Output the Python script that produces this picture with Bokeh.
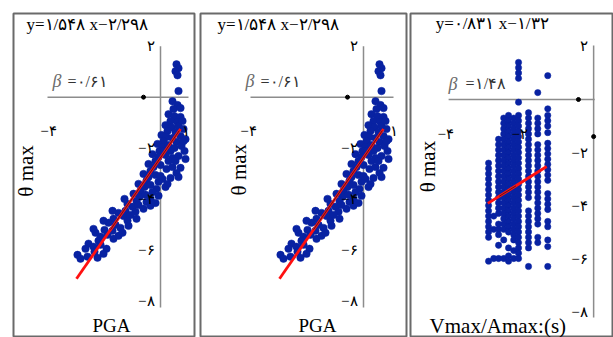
import math
from bokeh.plotting import figure
from bokeh.layouts import row
from bokeh.models import Range1d
from bokeh.core.properties import value
from bokeh.embed import file_html
from bokeh.resources import INLINE

# ---------------- data: theta max vs PGA (panels 1 and 2 show the same data) ----------------
pga_x = [0.64, 0.72, 0.60, 0.68, 0.72, 0.48, 0.68, 0.52, 0.80, 0.32,
         0.56, 0.80, 0.40, 0.68, 0.20, 0.44, 0.72, 0.92, 0.28, 0.60,
         0.04, 0.24, 0.48, 0.80, 1.00, 0.12, 0.64, -0.12, 0.08, 0.32,
         0.56, 0.84, -0.04, 0.40, 0.96, -0.32, -0.08, 0.20, 0.48, 0.72,
         1.00, -0.20, 0.32, -0.48, -0.28, 0.00, 0.24, 0.48, 0.80, -0.40,
         0.64, -0.68, -0.48, -0.20, 0.08, 0.40, 0.72, -0.56, -0.08, -0.88,
         -0.64, -0.40, -0.16, 0.20, -0.80, -0.32, -1.08, -0.84, -0.60, -0.40,
         -0.08, -0.96, -0.56, -1.32, -1.12, -0.88, -0.68, -0.40, -1.40, -1.00,
         -1.68, -1.48, -1.20, -0.96, -1.88, -1.32, -2.08, -1.80, -1.60, -1.28,
         -2.24, -1.92, -2.60, -2.40, -2.12, -1.88, -1.68, -2.48, -2.88, -2.68,
         -2.40, -2.16, -3.00, -2.64, -3.32, -3.20, -2.92, -2.28, -2.52,
         -1.44, -0.20, -1.52, -2.28, -1.92, -2.68, 0.92, 0.88, 0.16, 0.60, 0.00, 0.28]
pga_theta = [1.29, 1.14, 1.02, 0.86, 0.24, -0.16, -0.31, -0.47, -0.43, -0.67,
             -0.75, -0.78, -0.94, -0.98, -1.10, -1.18, -1.14, -1.25, -1.33, -1.37,
             -1.49, -1.57, -1.61, -1.53, -1.65, -1.73, -1.76, -1.84, -1.96, -1.88,
             -2.00, -1.92, -2.12, -2.12, -2.12, -2.24, -2.35, -2.27, -2.39, -2.31,
             -2.43, -2.51, -2.51, -2.63, -2.75, -2.67, -2.82, -2.75, -2.78, -2.90,
             -2.98, -3.02, -3.14, -3.06, -3.22, -3.18, -3.14, -3.29, -3.33, -3.41,
             -3.53, -3.45, -3.61, -3.53, -3.69, -3.73, -3.80, -3.92, -3.84, -4.00,
             -3.88, -4.08, -4.12, -4.20, -4.31, -4.24, -4.39, -4.27, -4.47, -4.51,
             -4.55, -4.67, -4.63, -4.78, -4.78, -4.86, -4.94, -5.02, -5.14, -5.06,
             -5.22, -5.25, -5.33, -5.49, -5.41, -5.57, -5.45, -5.65, -5.76, -5.88,
             -5.80, -5.96, -5.96, -6.08, -6.20, -6.35, -6.27, -6.16, -6.31,
             -4.00, -4.16, -5.33, -4.86, -4.47, -5.18, -1.73, -0.94, -2.12, -2.51, -3.10, -3.41]
pga_fit_x = [-3.36, 0.80]
pga_fit_y = [-7.14, -1.25]
pga_core_x = [-2.0, 0.75]
pga_core_y = [-5.21, -1.32]
pga_equation = "y=۱/۵۴۸ x−۲/۲۹۸"
pga_beta = "=۰/۶۱"

# ---------------- data: theta max vs Vmax/Amax (panel 3), columns of discrete x ----------------
vr_cols = [-2.84, -2.70, -2.57, -2.43, -2.30, -2.16, -2.03, -1.76, -1.51, -1.24]
vr_theta = [
    [-2.4, -2.6, -2.8, -3.0, -3.2, -3.4, -3.6, -3.8, -4.0, -4.2, -4.4, -4.6, -4.8, -5.0, -5.2, -6.1],
    [-4.4, -4.9, -6.0],
    [-1.5, -1.7, -1.9, -2.1, -2.3, -2.5, -2.7, -2.9, -3.1, -3.3, -3.5, -3.7, -3.9, -4.1, -4.3,
     -4.7, -4.9, -5.1, -5.5, -6.0],
    [-0.7, -0.9, -1.1, -1.3, -1.5, -1.7, -1.9, -2.1, -2.3, -2.5, -2.7, -2.9, -3.1, -3.3, -3.5,
     -3.7, -3.9, -4.1, -4.3, -4.5, -4.7, -4.9, -5.3, -6.0],
    [-0.6, -0.8, -1.0, -1.2, -1.4, -1.6, -1.8, -2.0, -2.2, -2.4, -2.6, -2.8, -3.0, -3.2, -3.4,
     -3.6, -3.8, -4.0, -4.2, -4.4, -4.6, -4.8, -5.0, -5.6, -5.9, -6.1],
    [-0.7, -0.9, -1.1, -1.3, -1.5, -1.7, -1.9, -2.1, -2.3, -2.5, -2.7, -2.9, -3.1, -3.3, -3.5,
     -3.7, -3.9, -4.1, -4.3, -4.5, -4.7, -4.9, -5.1, -5.3, -5.7, -6.0],
    [1.4, 1.2, 1.0, 0.8, -0.1, -0.6, -0.8, -1.0, -1.2, -1.4, -1.6, -1.8, -2.0, -2.2, -2.4, -2.6,
     -2.8, -3.0, -3.2, -3.4, -3.6, -3.8, -4.0, -4.2, -4.4, -4.6, -4.8, -5.0, -5.2, -5.4, -5.6,
     -5.8, -6.0],
    [-0.5, -0.7, -0.9, -1.1, -1.3, -1.5, -1.7, -1.9, -2.1, -2.3, -2.5, -2.7, -2.9, -3.1, -3.3,
     -3.5, -3.7, -4.2, -4.4, -4.6, -4.8, -5.0, -5.2, -5.4, -5.6, -6.3],
    [0.26, -0.7, -0.9, -1.1, -1.3, -1.7, -1.9, -2.1, -2.3, -2.5, -2.7, -2.9, -3.1, -3.3, -3.5,
     -3.7, -3.9, -4.1, -4.3, -4.5, -4.7, -5.2, -5.4],
    [0.9, -0.35, -0.6, -0.8, -1.0, -1.25, -1.65, -1.85, -2.05, -2.25, -2.45, -2.65, -2.85, -3.05,
     -3.55, -3.75, -3.95, -4.15, -4.6, -4.8, -5.3, -5.55, -6.3],
]
vr_fit_x = [-2.86, -1.27]
vr_fit_y = [-3.92, -2.53]
vr_core_x = [-2.55, -2.10]
vr_core_y = [-3.65, -3.26]
vr_equation = "y=۰/۸۳۱ x−۱/۳۲"
vr_beta = "=۱/۴۸"

# ---------------- tick labels ----------------
theta_ticks = [2, -2, -4, -6, -8]
theta_tick_labels = ["۲", "−۲", "−۴", "−۶", "−۸"]
pga_ticks = [-4, 1]
pga_tick_labels = ["−۴", "۱"]
vr_ticks = [-4, -2]
vr_tick_labels = ["−۴", "−۲"]
y_title = "θ max"

SERIF = value("Liberation Serif")
DOT = "#0822a2"


def panel(width, bl, br, bt, xr, yr, xs, ys, dot_size, fit_x, fit_y, core_x, core_y,
          eq, eq_pos, beta, beta_pos, eqsign_pos, ylab_pos, xlab, xlab_pos, xlab_size,
          hline, vline, xticks, xtick_labels, xtick_shift, marks_x, marks_y):
    p = figure(width=width, height=337, x_range=Range1d(*xr), y_range=Range1d(*yr),
               output_backend="svg", toolbar_location=None,
               x_axis_location=None, y_axis_location=None,
               min_border_left=bl, min_border_right=br, min_border_top=bt,
               min_border_bottom=0)
    p.xgrid.visible = False
    p.ygrid.visible = False
    p.outline_line_color = "#6a6a6a"
    p.outline_line_width = 2
    # axis lines
    p.segment(x0=[0], y0=[vline[0]], x1=[0], y1=[vline[1]], line_color="#8c8c8c", line_width=1.5)
    p.segment(x0=[hline[0]], y0=[0], x1=[hline[1]], y1=[0], line_color="#8c8c8c", line_width=1.5)
    # data
    p.scatter(xs, ys, size=dot_size, fill_color=DOT, line_color=DOT, line_width=0.5)
    p.line(fit_x, fit_y, line_color="#ff1010", line_width=2.8)
    p.line(core_x, core_y, line_color="#222222", line_width=0.8)
    p.scatter(marks_x, marks_y, size=4, fill_color="black", line_color="black")
    # tick labels
    p.text(x=[0] * len(theta_ticks), y=theta_ticks, text=theta_tick_labels,
           x_offset=-6, text_align="right", text_baseline="middle",
           text_font=SERIF, text_font_size="15px", text_color="black")
    p.text(x=xticks, y=[0] * len(xticks), text=xtick_labels, y_offset=34,
           x_offset=xtick_shift,
           text_align="center", text_baseline="middle",
           text_font=SERIF, text_font_size="15px", text_color="black")
    # titles
    p.text(x=[eq_pos[0]], y=[eq_pos[1]], text=[eq], text_align="left", text_baseline="middle",
           text_font=SERIF, text_font_size="17px", text_color="black")
    p.text(x=[beta_pos[0]], y=[beta_pos[1]], text=["β"], text_align="left", text_baseline="middle",
           text_font=SERIF, text_font_style="italic", text_font_size="18px", text_color="#6a6a6a")
    p.text(x=[eqsign_pos[0]], y=[eqsign_pos[1]], text=[beta], text_align="left", text_baseline="middle",
           text_font=SERIF, text_font_size="16px", text_color="#333333")
    p.text(x=[ylab_pos[0]], y=[ylab_pos[1]], text=[y_title], angle=math.pi / 2,
           text_align="center", text_baseline="middle",
           text_font=SERIF, text_font_size="21px", text_color="black")
    p.text(x=[xlab_pos[0]], y=[xlab_pos[1]], text=[xlab], text_align="center", text_baseline="middle",
           text_font=SERIF, text_font_size=xlab_size, text_color="black")
    return p


vr_x = []
vr_y = []
for cx, col in zip(vr_cols, vr_theta):
    vr_x.extend([cx] * len(col))
    vr_y.extend(col)

p1 = panel(198, 13, 4, 12, (-5.88, 1.36), (-9.45, 3.29), pga_x, pga_theta, 7.5,
           pga_fit_x, pga_fit_y, pga_core_x, pga_core_y,
           pga_equation, (-5.36, 2.86), pga_beta, (-4.32, 0.63), (-3.72, 0.63),
           (-5.40, -2.90), "PGA", (-1.96, -8.98), "19px",
           (-4.52, 1.12), (2.0, -8.27), pga_ticks, pga_tick_labels, [-12, 0], [-0.68], [0])

p2 = panel(210, 2, 2, 12, (-6.52, 1.72), (-9.45, 3.29), pga_x, pga_theta, 7.5,
           pga_fit_x, pga_fit_y, pga_core_x, pga_core_y,
           pga_equation, (-5.84, 2.86), pga_beta, (-4.72, 0.63), (-4.12, 0.63),
           (-5.00, -2.85), "PGA", (-1.84, -8.98), "19px",
           (-4.52, 1.20), (2.0, -8.27), pga_ticks, pga_tick_labels, [-15, 5], [-0.64], [0])

p3 = panel(205, 2, 1, 13, (-4.95, 0.51), (-8.98, 3.245), vr_x, vr_y, 6.3,
           vr_fit_x, vr_fit_y, vr_core_x, vr_core_y,
           vr_equation, (-4.27, 2.87), vr_beta, (-3.92, 0.60), (-3.46, 0.60),
           (-4.49, -2.53), "Vmax/Amax:(s)", (-2.59, -8.53), "21px",
           (-3.92, 0.03), (2.04, -8.23), vr_ticks, vr_tick_labels, [0, 0], [-0.41, 0], [0, -1.40])

layout = row(p1, p2, p3)
open("out.html", "w").write(file_html(layout, INLINE))
